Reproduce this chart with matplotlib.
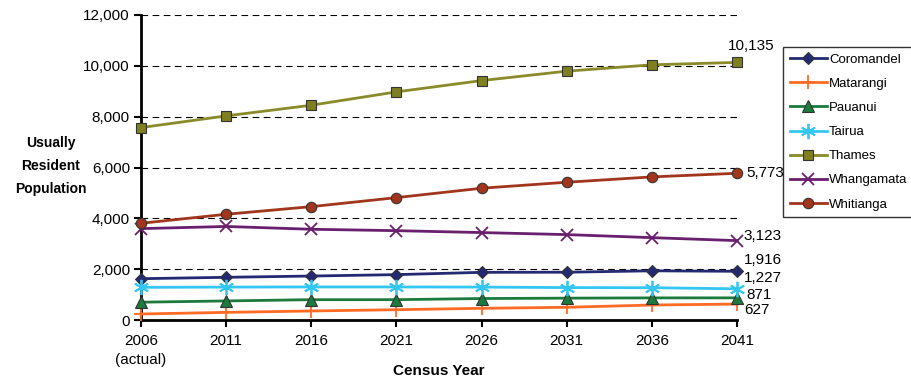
import matplotlib
matplotlib.use("Agg")
import matplotlib.pyplot as plt

plt.rcParams['font.family'] = ['Liberation Sans', 'DejaVu Sans']

years = [2006, 2011, 2016, 2021, 2026, 2031, 2036, 2041]
year_labels = ['2006\n(actual)', '2011', '2016', '2021', '2026', '2031', '2036', '2041']

coromandel = [1625, 1680, 1730, 1785, 1875, 1880, 1935, 1916]
matarangi = [236, 300, 355, 405, 460, 500, 590, 627]
pauanui = [700, 750, 800, 800, 845, 860, 870, 871]
tairua = [1285, 1295, 1300, 1300, 1295, 1275, 1270, 1227]
thames = [7570, 8030, 8450, 8975, 9420, 9790, 10040, 10135]
whangamata = [3595, 3680, 3570, 3515, 3440, 3360, 3240, 3123]
whitianga = [3805, 4160, 4460, 4815, 5185, 5420, 5630, 5773]

# name, values, line colour, marker, marker size, label offset (points)
series = [
    ('Coromandel', coromandel, '#232a73', 'D', 6, (5, 8)),
    ('Matarangi', matarangi, '#ff6a24', '+', 10, (5, -4.5)),
    ('Pauanui', pauanui, '#1b7a3c', '^', 8, (7, 2)),
    ('Tairua', tairua, '#33c6f2', (6, 2, 0), 11, (5, 8)),
    ('Thames', thames, '#8a8a2a', 's', 7, (10, 11.5)),
    ('Whangamata', whangamata, '#6a1e6e', 'x', 9, (5, 3)),
    ('Whitianga', whitianga, '#a2361d', 'o', 7.5, (6.5, 0.5)),
]
face = {'Thames': '#7f7f20'}

fs = 11

fig = plt.figure(figsize=(9.11, 3.79), dpi=100)
ax = fig.add_axes([141 / 911, 1 - 320 / 379, (737 - 141) / 911, (320 - 15) / 379])

for name, vals, col, mk, ms, off in series:
    if mk in ('+', 'x') or name == 'Tairua':
        ax.plot(years, vals, color=col, lw=2, marker=mk, ms=ms,
                mec=col, mew=1.3, label=name, clip_on=False, zorder=3)
    else:
        ax.plot(years, vals, color=col, lw=2, marker=mk, ms=ms,
                mfc=face.get(name, col), mec='#333333', mew=0.8,
                label=name, clip_on=False, zorder=3)
    # value label at the 2041 end of each line
    ha = 'center' if name == 'Thames' else 'left'
    ax.annotate(f'{vals[-1]:,}', (years[-1], vals[-1]), xytext=off,
                textcoords='offset points', fontsize=fs, ha=ha, va='center',
                annotation_clip=False)

ax.set_xlim(2006, 2041)
ax.set_ylim(0, 12000)
ax.set_xticks(years)
ax.set_xticklabels(year_labels, fontsize=fs, linespacing=1.45)
ax.set_yticks(range(0, 12001, 2000))
ax.set_yticklabels([f'{v:,}' for v in range(0, 12001, 2000)], fontsize=fs)
ax.tick_params(direction='out', length=5, width=1.5, pad=3)
ax.tick_params(axis='x', pad=5)

for v in range(2000, 12001, 2000):
    ax.axhline(v, color='black', lw=0.8, ls=(0, (6, 4)), zorder=1)

for s in ('top', 'right'):
    ax.spines[s].set_visible(False)
for s in ('left', 'bottom'):
    ax.spines[s].set_linewidth(2)

ax.set_xlabel('Census Year', fontsize=fs, fontweight='bold')
ax.xaxis.set_label_coords(0.5, -0.145)
fig.text(51 / 911, 1 - 166 / 379, 'Usually\nResident\nPopulation', fontsize=10,
         fontweight='bold', ha='center', va='center', linespacing=1.85)

leg = fig.legend(loc='upper left', bbox_to_anchor=(783 / 911, 1 - 47 / 379),
                 fontsize=9.5, frameon=True, fancybox=False, handlelength=2.8,
                 labelspacing=0.9, borderpad=0.5, handletextpad=0.2,
                 borderaxespad=0)
leg.get_frame().set_edgecolor('black')
leg.get_frame().set_linewidth(1)

fig.savefig('out.png', dpi=100)
